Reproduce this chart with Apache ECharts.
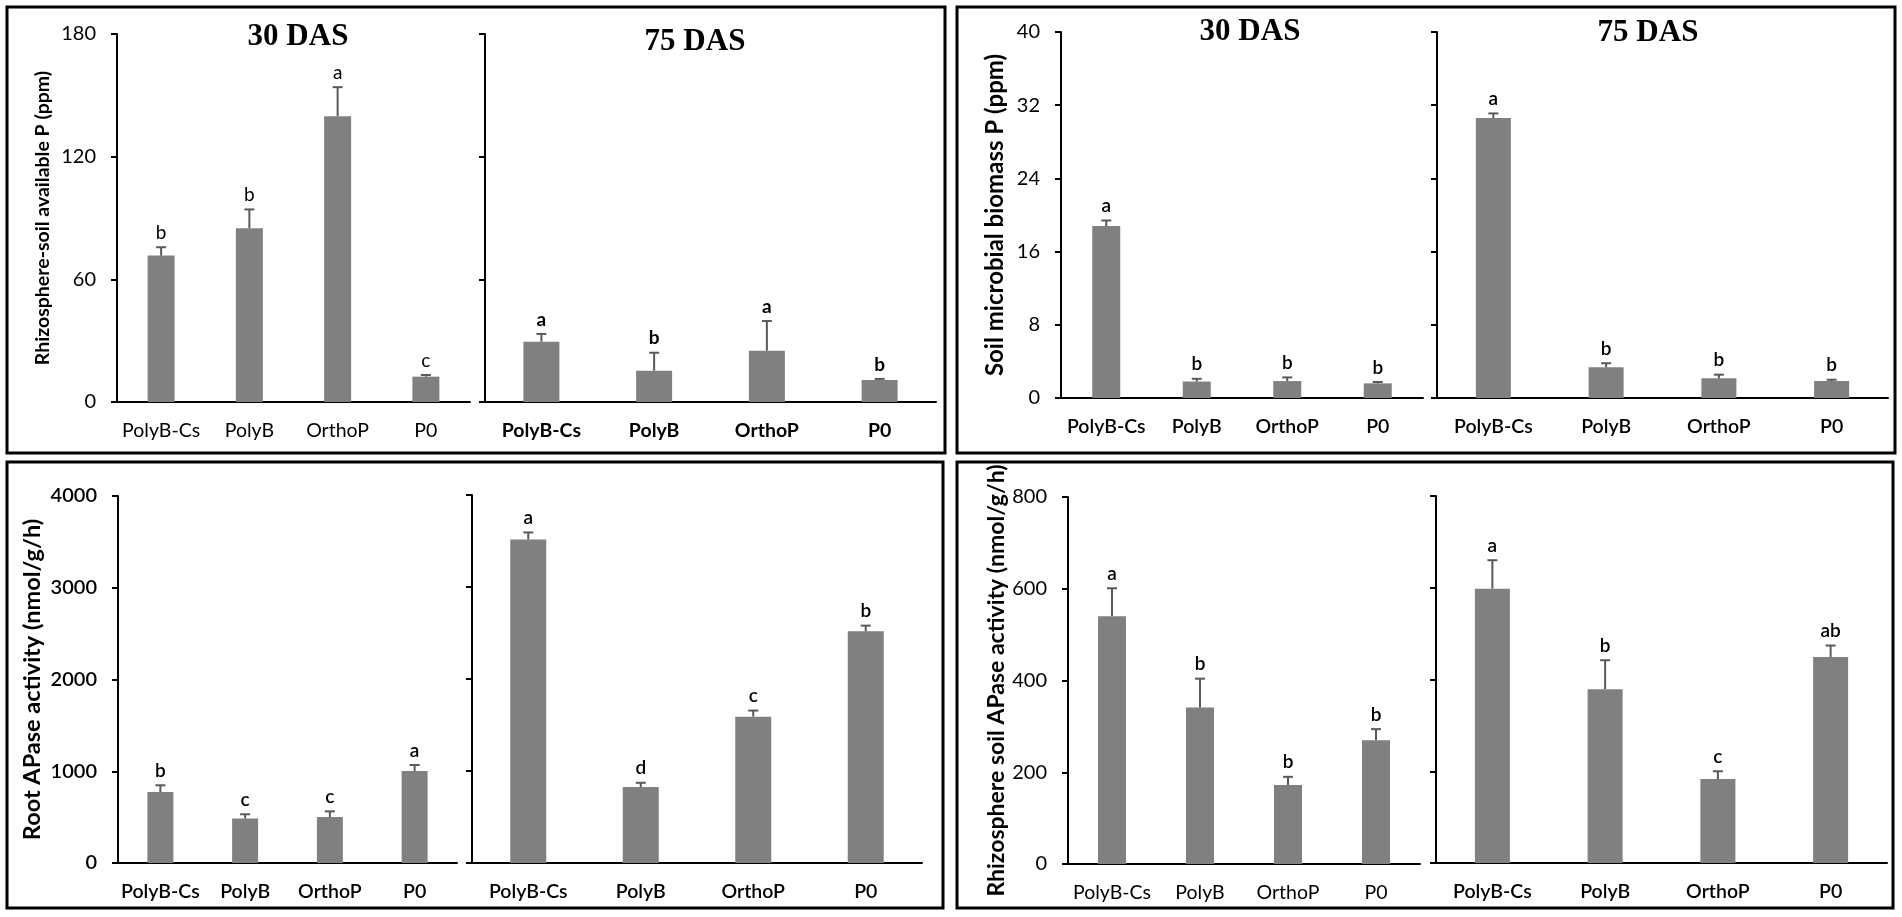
<!DOCTYPE html>
<html>
<head>
<meta charset="utf-8">
<script src="https://cdn.jsdelivr.net/npm/echarts@6/dist/echarts.min.js"></script>
<style>
  html, body { margin: 0; padding: 0; background: #fff; }
  #chart { width: 1902px; height: 917px; }
</style>
</head>
<body>
<div id="chart"></div>
<script>
const categories = ['PolyB-Cs', 'PolyB', 'OrthoP', 'P0']

// rhizosphere-soil available P (ppm)
const availP30 = [71.6, 85, 139.8, 12.4]
const availP30Err = [4.1, 9.2, 14.2, 0.8]
const availP30Sig = ['b', 'b', 'a', 'c']
const availP75 = [29.5, 15.3, 25.1, 10.8]
const availP75Err = [3.8, 8.8, 14.5, 0.5]
const availP75Sig = ['a', 'b', 'a', 'b']

// soil microbial biomass P (ppm)
const microP30 = [18.8, 1.8, 1.85, 1.6]
const microP30Err = [0.6, 0.3, 0.4, 0.15]
const microP30Sig = ['a', 'b', 'b', 'b']
const microP75 = [30.6, 3.35, 2.15, 1.85]
const microP75Err = [0.5, 0.45, 0.4, 0.15]
const microP75Sig = ['a', 'b', 'b', 'b']

// root APase activity (nmol/g/h)
const rootAP30 = [774, 484, 501, 1003]
const rootAP30Err = [73, 47, 62, 65]
const rootAP30Sig = ['b', 'c', 'c', 'a']
const rootAP75 = [3517, 825, 1591, 2518]
const rootAP75Err = [76, 47, 66, 62]
const rootAP75Sig = ['a', 'd', 'c', 'b']

// rhizosphere soil APase activity (nmol/g/h)
const soilAP30 = [540, 341, 172, 270]
const soilAP30Err = [61, 63, 18, 24]
const soilAP30Sig = ['a', 'b', 'b', 'b']
const soilAP75 = [598, 379, 183, 449]
const soilAP75Err = [62, 63, 17, 25]
const soilAP75Sig = ['a', 'b', 'c', 'ab']

const SANS = 'Lato, "Noto Sans", sans-serif'
const SERIF = '"Liberation Serif", "Times New Roman", serif'

const panels = [
  { box: [117, 34, 353, 368], vals: availP30, err: availP30Err, sig: availP30Sig, max: 180, step: 60,
    name: 'Rhizosphere-soil available P (ppm)', nameGap: 64, nameSize: 19.5, tickW: 'normal', catW: 'normal', sigW: 'normal', barW: 27 },
  { box: [485, 34, 451, 368], vals: availP75, err: availP75Err, sig: availP75Sig, max: 180, step: 60,
    catW: 'bold', sigW: 'bold', barW: 36 },
  { box: [1061, 32, 362, 366], vals: microP30, err: microP30Err, sig: microP30Sig, max: 40, step: 8,
    name: 'Soil microbial biomass P (ppm)', nameGap: 54, nameSize: 24, tickW: 'normal', catW: 600, sigW: 600, barW: 28 },
  { box: [1437, 32, 451, 366], vals: microP75, err: microP75Err, sig: microP75Sig, max: 40, step: 8,
    catW: 600, sigW: 600, barW: 35 },
  { box: [118, 496, 339, 367], vals: rootAP30, err: rootAP30Err, sig: rootAP30Sig, max: 4000, step: 1000,
    name: 'Root APase activity (nmol/g/h)', nameGap: 74, nameSize: 23.5, tickW: 600, catW: 600, sigW: 600, barW: 26 },
  { box: [472, 495, 450, 368], vals: rootAP75, err: rootAP75Err, sig: rootAP75Sig, max: 4000, step: 1000,
    catW: 600, sigW: 600, barW: 36 },
  { box: [1068, 497, 352, 367], vals: soilAP30, err: soilAP30Err, sig: soilAP30Sig, max: 800, step: 200,
    name: 'Rhizosphere soil APase activity (nmol/g/h)', nameGap: 59, nameSize: 23, tickW: 'normal', catW: 'normal', sigW: 600, barW: 28 },
  { box: [1436, 496, 451, 367], vals: soilAP75, err: soilAP75Err, sig: soilAP75Sig, max: 800, step: 200,
    catW: 600, sigW: 600, barW: 35 }
]

const titles = [
  { text: '30 DAS', x: 298, y: 37 },
  { text: '75 DAS', x: 695, y: 42 },
  { text: '30 DAS', x: 1250, y: 32 },
  { text: '75 DAS', x: 1648, y: 33 }
]

const frames = [
  [7, 7, 938, 446],
  [957, 7, 938, 446],
  [7, 462, 936, 446],
  [957, 462, 936, 446]
]

const axisLine = { show: true, lineStyle: { color: '#000', width: 2 } }

const errorBars = (p) => (params, api) => {
  const i = api.value(0)
  const base = api.coord([i, api.value(1)])
  const top = api.coord([i, api.value(1) + api.value(2)])
  const x = base[0]
  const lineStyle = { stroke: '#595959', lineWidth: 2 }
  return {
    type: 'group',
    children: [
      { type: 'line', shape: { x1: x, y1: base[1], x2: x, y2: top[1] }, style: lineStyle },
      { type: 'line', shape: { x1: x - 5, y1: top[1], x2: x + 5, y2: top[1] }, style: lineStyle },
      {
        type: 'text', x: x, y: top[1] - 5,
        style: {
          text: p.sig[params.dataIndex], fill: '#000',
          font: `${p.sigW} 19px ${SANS}`,
          textAlign: 'center', textVerticalAlign: 'bottom'
        }
      }
    ]
  }
}

const option = {
  animation: false,
  backgroundColor: '#fff',
  grid: panels.map(p => ({ left: p.box[0], top: p.box[1], width: p.box[2], height: p.box[3] })),
  xAxis: panels.map((p, i) => ({
    type: 'category', gridIndex: i, data: categories,
    axisLine: axisLine,
    axisTick: { show: false },
    axisLabel: { color: '#000', fontSize: 19.5, fontFamily: SANS, fontWeight: p.catW, margin: 19, interval: 0 }
  })),
  yAxis: panels.map((p, i) => ({
    type: 'value', gridIndex: i, min: 0, max: p.max, interval: p.step,
    name: p.name || '', nameLocation: 'middle', nameGap: p.nameGap || 0,
    nameTextStyle: { color: '#000', fontSize: p.nameSize || 12, fontWeight: 'bold', fontFamily: SANS },
    axisLine: axisLine,
    axisTick: { show: true, inside: false, length: 6, lineStyle: { color: '#000', width: 2 } },
    axisLabel: {
      show: !!p.name, color: '#000', fontSize: 20, fontFamily: SANS, fontWeight: p.tickW || 'normal', margin: 21,
      formatter: v => String(v)
    },
    splitLine: { show: false }
  })),
  series: panels.flatMap((p, i) => [
    {
      type: 'bar', xAxisIndex: i, yAxisIndex: i, data: p.vals,
      barWidth: p.barW, itemStyle: { color: '#808080' }
    },
    {
      type: 'custom', xAxisIndex: i, yAxisIndex: i,
      data: p.vals.map((v, k) => [k, v, p.err[k]]),
      encode: { x: 0, y: 1 },
      renderItem: errorBars(p),
      z: 3
    }
  ]),
  graphic: [
    ...frames.map(f => ({
      type: 'rect', shape: { x: f[0], y: f[1], width: f[2], height: f[3] },
      style: { fill: 'none', stroke: '#000', lineWidth: 3 }, silent: true
    })),
    ...titles.map(t => ({
      type: 'text', x: t.x, y: t.y,
      style: { text: t.text, font: `bold 31px ${SERIF}`, fill: '#000', textAlign: 'center', textVerticalAlign: 'middle' }
    }))
  ]
}

const chart = echarts.init(document.getElementById('chart'))
chart.setOption(option)
</script>
</body>
</html>
